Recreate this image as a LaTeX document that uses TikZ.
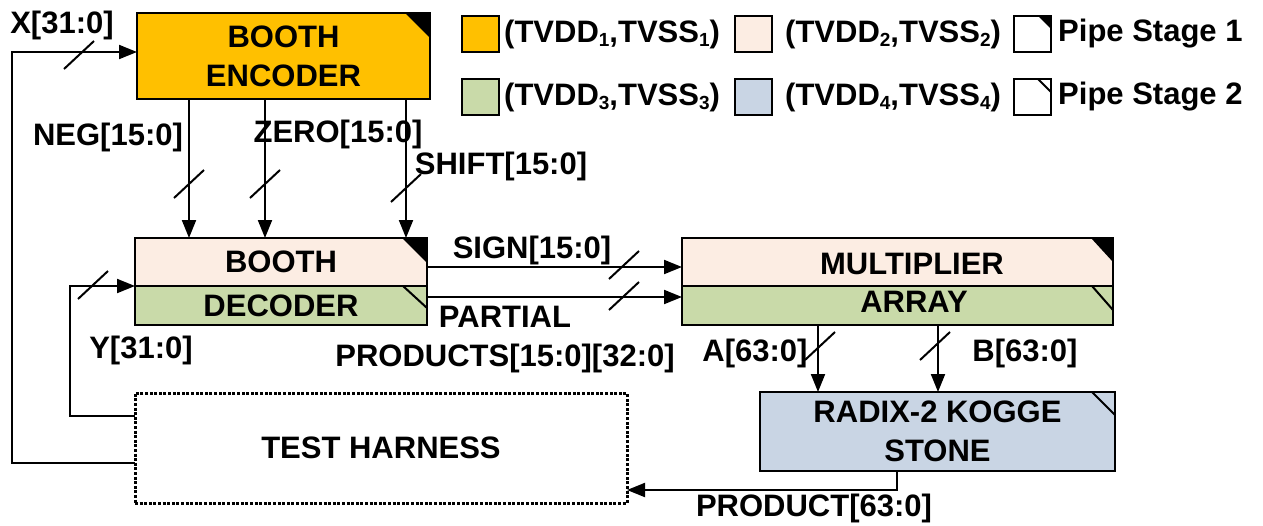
\documentclass[tikz,border=0pt]{standalone}
\usepackage{fontspec}
\setmainfont{Liberation Sans}
\usetikzlibrary{arrows.meta,calc}
\definecolor{encfill}{HTML}{FFC000}
\definecolor{peach}{HTML}{FCEDE3}
\definecolor{sage}{HTML}{C9DAA9}
\definecolor{steel}{HTML}{C9D5E4}
\newcommand\lowidx[1]{\raisebox{-0.3ex}{\fontsize{19}{19}\selectfont #1}}
\begin{document}
\begin{tikzpicture}[x=1pt,y=-1pt,
  font={\fontsize{31}{39}\selectfont\bfseries},
  wire/.style={line width=2pt},
  arr/.style={wire,-{Triangle[length=18pt,width=14pt]}},
  blk/.style={draw,line width=2.5pt,inner sep=0pt,outer sep=0pt,align=center},
  txt/.style={inner sep=0pt,align=center},
  legbox/.style={draw,line width=2pt,inner sep=0pt,outer sep=0pt,minimum width=37pt,minimum height=36pt},
  bus/.pic={\draw[line width=2pt] (-15,14) -- (15,-14);},
]
\useasboundingbox (0,0) rectangle (1263,525);

% functional blocks
\node[blk,fill=encfill,minimum width=293pt,minimum height=86pt] (enc) at (283.5,56) {BOOTH\\ENCODER};
\node[blk,fill=peach,minimum width=292pt,minimum height=48pt] (bT) at (281,262) {BOOTH};
\node[blk,fill=sage,minimum width=292pt,minimum height=39pt] (bB) at (281,305.5) {DECODER};
\node[blk,fill=peach,minimum width=431pt,minimum height=48pt] (mT) at (897.5,262) {};
\node[blk,fill=sage,minimum width=431pt,minimum height=39pt] (mB) at (897.5,305.5) {};
\node[txt] (mTt) at (912,264) {MULTIPLIER};
\node[txt] (mBt) at (914,302) {ARRAY};
\node[blk,fill=steel,minimum width=355pt,minimum height=79pt] (kg) at (937.5,431.5) {RADIX-2 KOGGE\\STONE};
\node[draw,line width=3pt,dash pattern=on 3pt off 1.6pt,inner sep=0pt,outer sep=0pt,
      minimum width=492pt,minimum height=110pt] (th) at (381,448) {TEST HARNESS};

% pipeline stage corner marks
\fill (enc.north east) -- ++(-25,0) -- ++(25,25) -- cycle;
\fill (bT.north east) -- ++(-25,0) -- ++(25,25) -- cycle;
\draw[line width=2pt] ($(bB.north east)+(-24,0)$) -- ++(24,22);
\fill (mT.north east) -- ++(-22,0) -- ++(22,24) -- cycle;
\draw[line width=2pt] ($(mB.north east)+(-21,0)$) -- ++(21,24);
\draw[line width=2pt] ($(kg.north east)+(-23,0)$) -- ++(23,23);

% connectors
\coordinate (xb) at (12,463); \coordinate (xt) at (12,52);
\draw[arr] (th.west |- xb) -- (xb) -- (xt) -- (enc.west |- xt);
\coordinate (yb) at (70,416); \coordinate (yt) at (70,286);
\draw[arr] (th.west |- yb) -- (yb) -- (yt) -- (bT.south west);
\coordinate (cneg) at (189,0); \coordinate (czero) at (265,0); \coordinate (cshift) at (406,0);
\foreach \c in {cneg,czero,cshift} \draw[arr] (enc.south -| \c) -- (bT.north -| \c);
\coordinate (sg) at (0,267); \coordinate (pp) at (0,297);
\draw[arr] (bT.east |- sg) -- (mT.west |- sg);
\draw[arr] (bB.east |- pp) -- (mB.west |- pp);
\coordinate (ca) at (818,0); \coordinate (cb) at (938,0);
\draw[arr] (mB.south -| ca) -- (kg.north -| ca);
\draw[arr] (mB.south -| cb) -- (kg.north -| cb);
\coordinate (pr) at (897,490);
\draw[arr] (kg.south -| pr) -- (pr) -- (th.east |- pr);

% bus width slashes
\pic at (79,55) {bus};
\pic at (189,184) {bus};
\pic at (265,184) {bus};
\pic at (406,188) {bus};
\pic at (93,285) {bus};
\pic at (624,265) {bus};
\pic at (624,296) {bus};
\pic at (820,346) {bus};
\pic at (935,346) {bus};

% signal labels
\node[txt] (lx) at (62,25) {X[31:0]};
\node[txt] (lneg) at (108,137) {NEG[15:0]};
\node[txt] (lzero) at (338,134) {ZERO[15:0]};
\node[txt] (lshift) at (501,166) {SHIFT[15:0]};
\node[txt] (lsign) at (532,250) {SIGN[15:0]};
\node[txt] (lpp) at (505,340) {PARTIAL\\PRODUCTS[15:0][32:0]};
\node[txt] (ly) at (141,350) {Y[31:0]};
\node[txt] (la) at (755,353) {A[63:0]};
\node[txt] (lb) at (1025,353) {B[63:0]};
\node[txt] (lprod) at (814,508) {PRODUCT[63:0]};

% legend
\node[legbox,fill=encfill] (k1) at (480.5,34) {};
\node[txt,anchor=west] (k1t) at (504,34) {(TVDD\lowidx{1},TVSS\lowidx{1})};
\node[legbox,fill=peach] (k2) at (753.5,34) {};
\node[txt,anchor=west] (k2t) at (785,34) {(TVDD\lowidx{2},TVSS\lowidx{2})};
\node[legbox,fill=white] (k3) at (1032.5,34) {};
\fill (k3.north east) -- ++(-13,0) -- ++(13,13) -- cycle;
\node[txt,anchor=west] (k3t) at (1058,34) {Pipe Stage 1};
\node[legbox,fill=sage] (k4) at (480.5,97) {};
\node[txt,anchor=west] (k4t) at (504,97) {(TVDD\lowidx{3},TVSS\lowidx{3})};
\node[legbox,fill=steel] (k5) at (753.5,97) {};
\node[txt,anchor=west] (k5t) at (785,97) {(TVDD\lowidx{4},TVSS\lowidx{4})};
\node[legbox,fill=white] (k6) at (1032.5,97) {};
\draw[line width=2pt] ($(k6.north east)+(-13,0)$) -- ++(13,13);
\node[txt,anchor=west] (k6t) at (1058,97) {Pipe Stage 2};
\end{tikzpicture}
\end{document}
